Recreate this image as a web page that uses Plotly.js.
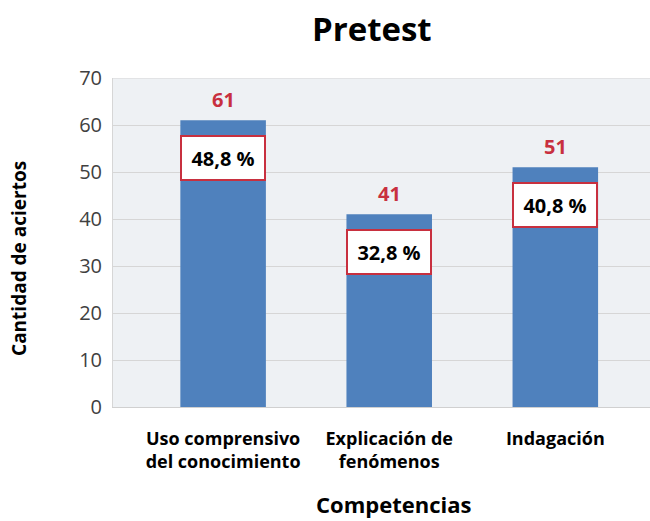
<!DOCTYPE html>
<html>
<head>
<meta charset="utf-8">
<script src="https://cdn.plot.ly/plotly-3.0.1.min.js"></script>
<style>html,body{margin:0;padding:0;background:#fff;}#chart{width:650px;height:521px;}</style>
</head>
<body>
<div id="chart"></div>
<script>
const categories = ["Uso comprensivo<br>del conocimiento", "Explicación de<br>fenómenos", "Indagación"];
const aciertos = [61, 41, 51];
const porcentajes = ["48,8 %", "32,8 %", "40,8 %"];
const yTicks = [0, 10, 20, 30, 40, 50, 60, 70];

const FONT = "'Open Sans', Lato, sans-serif";
const RED = "#C8303F";

const trace = {
  type: "bar",
  x: [0, 1, 2],
  y: aciertos,
  width: 0.515,
  marker: {color: "#4F81BD"},
  hoverinfo: "none"
};

const annotations = [];
aciertos.forEach((v, i) => {
  annotations.push({
    x: i, y: v, xref: "x", yref: "y",
    text: String(v), showarrow: false,
    yanchor: "bottom", yshift: 5,
    font: {family: FONT, size: 20, color: RED, weight: "bold"}
  });
  annotations.push({
    x: i, y: v, xref: "x", yref: "y",
    text: "<b>" + porcentajes[i] + "</b>", showarrow: false,
    yanchor: "middle", yshift: -38,
    width: 82, height: 42, borderpad: 0,
    bgcolor: "#FFFFFF", bordercolor: RED, borderwidth: 2,
    font: {family: FONT, size: 20, color: "#000000"}
  });
});
annotations.push({
  xref: "paper", yref: "paper", x: -0.175, y: 0.45,
  text: "<b>Cantidad de aciertos</b>", showarrow: false, textangle: -90,
  xanchor: "center", yanchor: "middle",
  font: {family: FONT, size: 19, color: "#000"}
});
annotations.push({
  xref: "paper", yref: "paper", x: 0.522, y: -0.295,
  text: "<b>Competencias</b>", showarrow: false,
  xanchor: "center", yanchor: "middle",
  font: {family: FONT, size: 22, color: "#000"}
});

const layout = {
  width: 650, height: 521,
  margin: {l: 113, r: 0, t: 78, b: 114},
  paper_bgcolor: "#FFFFFF",
  plot_bgcolor: "#EEF1F4",
  showlegend: false,
  title: {
    text: "<b>Pretest</b>",
    font: {family: FONT, size: 33, color: "#000"},
    x: 0.482, xref: "paper", xanchor: "center",
    y: 0.943, yref: "container", yanchor: "middle"
  },
  xaxis: {
    range: [-0.663, 2.57],
    tickmode: "array",
    tickvals: [0, 1, 2],
    ticktext: categories,
    tickfont: {family: FONT, size: 18, color: "#000", weight: "bold"},
    showgrid: false,
    zeroline: false,
    showline: true, linecolor: "#D0D0D0", linewidth: 1,
    ticks: "", ticklabelstandoff: 15
  },
  yaxis: {
    range: [0, 70],
    tickmode: "array",
    tickvals: yTicks,
    tickfont: {family: FONT, size: 20, color: "#404040"},
    showgrid: true, gridcolor: "#D6D6D6", gridwidth: 1,
    zeroline: false,
    showline: true, linecolor: "#D6D6D6",
    ticks: "", ticklabelstandoff: 6
  },
  annotations: annotations,
  shapes: [{type: "line", xref: "paper", yref: "y", x0: 0, x1: 1, y0: 70, y1: 70, line: {color: "#D6D6D6", width: 1}}]
};

Plotly.newPlot("chart", [trace], layout, {displayModeBar: false, staticPlot: true});
</script>
</body>
</html>
